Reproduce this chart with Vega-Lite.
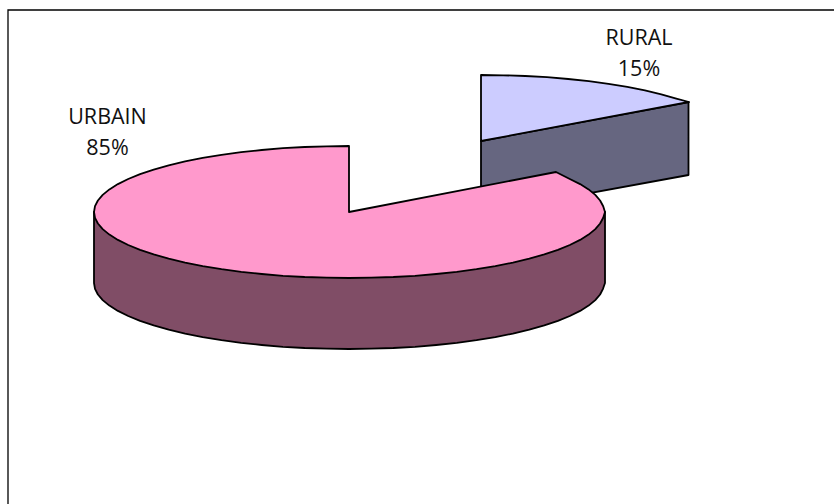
{
  "$schema": "https://vega.github.io/schema/vega-lite/v6.json",
  "width": 834,
  "height": 504,
  "padding": 0,
  "autosize": {"type": "none"},
  "background": "white",
  "config": {"view": {"stroke": null}},
  "datasets": {
    "frame": [
      {"step":0,"x":8,"y":504},{"step":1,"x":8,"y":10},{"step":2,"x":834,"y":10}
    ],
    "outlines": [
      {"part":"rural side","step":0,"x":481,"y":141},{"part":"rural side","step":1,"x":688.5,"y":102},{"part":"rural side","step":2,"x":688.5,"y":175},{"part":"rural side","step":3,"x":481,"y":213},{"part":"rural side","step":4,"x":481,"y":141},

      {"part":"rural top","step":0,"x":481,"y":141},{"part":"rural top","step":1,"x":481,"y":75},{"part":"rural top","step":2,"x":503.2,"y":75.3},{"part":"rural top","step":3,"x":525.3,"y":76},{"part":"rural top","step":4,"x":547,"y":77.2},{"part":"rural top","step":5,"x":568.2,"y":79},{"part":"rural top","step":6,"x":588.8,"y":81.2},{"part":"rural top","step":7,"x":608.5,"y":83.8},{"part":"rural top","step":8,"x":627.3,"y":86.9},{"part":"rural top","step":9,"x":644.9,"y":90.4},{"part":"rural top","step":10,"x":661.3,"y":94.3},{"part":"rural top","step":11,"x":676.3,"y":98.6},{"part":"rural top","step":12,"x":689,"y":102},{"part":"rural top","step":13,"x":481,"y":141},

      {"part":"urbain side","step":0,"x":94,"y":212},{"part":"urbain side","step":1,"x":94,"y":283},{"part":"urbain side","step":2,"x":95,"y":288.8},{"part":"urbain side","step":3,"x":97.9,"y":294.5},{"part":"urbain side","step":4,"x":102.7,"y":300.1},{"part":"urbain side","step":5,"x":109.4,"y":305.6},{"part":"urbain side","step":6,"x":117.9,"y":310.9},{"part":"urbain side","step":7,"x":128.2,"y":316},{"part":"urbain side","step":8,"x":140.1,"y":320.9},{"part":"urbain side","step":9,"x":153.7,"y":325.4},{"part":"urbain side","step":10,"x":168.7,"y":329.7},{"part":"urbain side","step":11,"x":185.1,"y":333.6},{"part":"urbain side","step":12,"x":202.7,"y":337.1},{"part":"urbain side","step":13,"x":221.5,"y":340.2},{"part":"urbain side","step":14,"x":241.2,"y":342.8},{"part":"urbain side","step":15,"x":261.8,"y":345},{"part":"urbain side","step":16,"x":283,"y":346.8},{"part":"urbain side","step":17,"x":304.7,"y":348},{"part":"urbain side","step":18,"x":326.8,"y":348.7},{"part":"urbain side","step":19,"x":349,"y":349},{"part":"urbain side","step":20,"x":371.2,"y":348.7},{"part":"urbain side","step":21,"x":393.3,"y":348},{"part":"urbain side","step":22,"x":415,"y":346.8},{"part":"urbain side","step":23,"x":436.2,"y":345},{"part":"urbain side","step":24,"x":456.8,"y":342.8},{"part":"urbain side","step":25,"x":476.5,"y":340.2},{"part":"urbain side","step":26,"x":495.3,"y":337.1},{"part":"urbain side","step":27,"x":512.9,"y":333.6},{"part":"urbain side","step":28,"x":529.3,"y":329.7},{"part":"urbain side","step":29,"x":544.3,"y":325.4},{"part":"urbain side","step":30,"x":557.9,"y":320.9},{"part":"urbain side","step":31,"x":569.8,"y":316},{"part":"urbain side","step":32,"x":580.1,"y":310.9},{"part":"urbain side","step":33,"x":588.6,"y":305.6},{"part":"urbain side","step":34,"x":595.3,"y":300.1},{"part":"urbain side","step":35,"x":600.1,"y":294.5},{"part":"urbain side","step":36,"x":603,"y":288.8},{"part":"urbain side","step":37,"x":605,"y":283},{"part":"urbain side","step":38,"x":605,"y":212},{"part":"urbain side","step":39,"x":94,"y":212},

      {"part":"urbain top","step":0,"x":349,"y":212},{"part":"urbain top","step":1,"x":349,"y":146},{"part":"urbain top","step":2,"x":326.8,"y":146.3},{"part":"urbain top","step":3,"x":304.7,"y":147},{"part":"urbain top","step":4,"x":283,"y":148.2},{"part":"urbain top","step":5,"x":261.8,"y":150},{"part":"urbain top","step":6,"x":241.2,"y":152.2},{"part":"urbain top","step":7,"x":221.5,"y":154.8},{"part":"urbain top","step":8,"x":202.7,"y":157.9},{"part":"urbain top","step":9,"x":185.1,"y":161.4},{"part":"urbain top","step":10,"x":168.7,"y":165.3},{"part":"urbain top","step":11,"x":153.7,"y":169.6},{"part":"urbain top","step":12,"x":140.1,"y":174.1},{"part":"urbain top","step":13,"x":128.2,"y":179},{"part":"urbain top","step":14,"x":117.9,"y":184.1},{"part":"urbain top","step":15,"x":109.4,"y":189.4},{"part":"urbain top","step":16,"x":102.7,"y":194.9},{"part":"urbain top","step":17,"x":97.9,"y":200.5},{"part":"urbain top","step":18,"x":95,"y":206.2},{"part":"urbain top","step":19,"x":94,"y":212},{"part":"urbain top","step":20,"x":95,"y":217.8},{"part":"urbain top","step":21,"x":97.9,"y":223.5},{"part":"urbain top","step":22,"x":102.7,"y":229.1},{"part":"urbain top","step":23,"x":109.4,"y":234.6},{"part":"urbain top","step":24,"x":117.9,"y":239.9},{"part":"urbain top","step":25,"x":128.2,"y":245},{"part":"urbain top","step":26,"x":140.1,"y":249.9},{"part":"urbain top","step":27,"x":153.7,"y":254.4},{"part":"urbain top","step":28,"x":168.7,"y":258.7},{"part":"urbain top","step":29,"x":185.1,"y":262.6},{"part":"urbain top","step":30,"x":202.7,"y":266.1},{"part":"urbain top","step":31,"x":221.5,"y":269.2},{"part":"urbain top","step":32,"x":241.2,"y":271.8},{"part":"urbain top","step":33,"x":261.8,"y":274},{"part":"urbain top","step":34,"x":283,"y":275.8},{"part":"urbain top","step":35,"x":304.7,"y":277},{"part":"urbain top","step":36,"x":326.8,"y":277.7},{"part":"urbain top","step":37,"x":349,"y":278},{"part":"urbain top","step":38,"x":371.2,"y":277.7},{"part":"urbain top","step":39,"x":393.3,"y":277},{"part":"urbain top","step":40,"x":415,"y":275.8},{"part":"urbain top","step":41,"x":436.2,"y":274},{"part":"urbain top","step":42,"x":456.8,"y":271.8},{"part":"urbain top","step":43,"x":476.5,"y":269.2},{"part":"urbain top","step":44,"x":495.3,"y":266.1},{"part":"urbain top","step":45,"x":512.9,"y":262.6},{"part":"urbain top","step":46,"x":529.3,"y":258.7},{"part":"urbain top","step":47,"x":544.3,"y":254.4},{"part":"urbain top","step":48,"x":557.9,"y":249.9},{"part":"urbain top","step":49,"x":569.8,"y":245},{"part":"urbain top","step":50,"x":580.1,"y":239.9},{"part":"urbain top","step":51,"x":588.6,"y":234.6},{"part":"urbain top","step":52,"x":595.3,"y":229.1},{"part":"urbain top","step":53,"x":600.1,"y":223.5},{"part":"urbain top","step":54,"x":603.2,"y":217.8},{"part":"urbain top","step":55,"x":605,"y":212},{"part":"urbain top","step":56,"x":603.2,"y":206.2},{"part":"urbain top","step":57,"x":600.1,"y":200.5},{"part":"urbain top","step":58,"x":595.3,"y":194.9},{"part":"urbain top","step":59,"x":588.6,"y":189.4},{"part":"urbain top","step":60,"x":580.1,"y":184.1},{"part":"urbain top","step":61,"x":569.8,"y":179},{"part":"urbain top","step":62,"x":556,"y":172},{"part":"urbain top","step":63,"x":349,"y":212}
    ],
    "segments": [
      {"segment":"RURAL","share":15,"x":639,"y":45},
      {"segment":"URBAIN","share":85,"x":107.5,"y":124}
    ]
  },
  "layer": [
    {
      "data": {"name": "frame"},
      "mark": {"type": "line", "stroke": "black", "strokeWidth": 1.3},
      "encoding": {
        "x": {"field": "x", "type": "quantitative", "scale": {"domain": [0, 834], "nice": false, "zero": false}, "axis": null},
        "y": {"field": "y", "type": "quantitative", "scale": {"domain": [504, 0], "nice": false, "zero": false}, "axis": null},
        "order": {"field": "step", "type": "quantitative"}
      }
    },
    {
      "data": {"name": "outlines"},
      "mark": {"type": "line", "stroke": "black", "strokeWidth": 1.8, "strokeJoin": "round", "strokeCap": "round"},
      "encoding": {
        "x": {"field": "x", "type": "quantitative", "scale": {"domain": [0, 834], "nice": false, "zero": false}, "axis": null},
        "y": {"field": "y", "type": "quantitative", "scale": {"domain": [504, 0], "nice": false, "zero": false}, "axis": null},
        "order": {"field": "step", "type": "quantitative"},
        "fill": {
          "field": "part",
          "type": "nominal",
          "legend": null,
          "scale": {
            "domain": ["rural side", "rural top", "urbain side", "urbain top"],
            "range": ["#666680", "#CCCCFF", "#804D66", "#FF99CC"]
          }
        }
      }
    },
    {
      "data": {"name": "segments"},
      "transform": [{"calculate": "datum.segment + '\\n' + datum.share + '%'", "as": "label"}],
      "mark": {"type": "text", "lineBreak": "\n", "lineHeight": 30.5, "align": "center", "baseline": "alphabetic", "font": "Open Sans", "fontSize": 21.5, "color": "#111111"},
      "encoding": {
        "x": {"field": "x", "type": "quantitative", "scale": {"domain": [0, 834], "nice": false, "zero": false}, "axis": null},
        "y": {"field": "y", "type": "quantitative", "scale": {"domain": [504, 0], "nice": false, "zero": false}, "axis": null},
        "text": {"field": "label"}
      }
    }
  ]
}
